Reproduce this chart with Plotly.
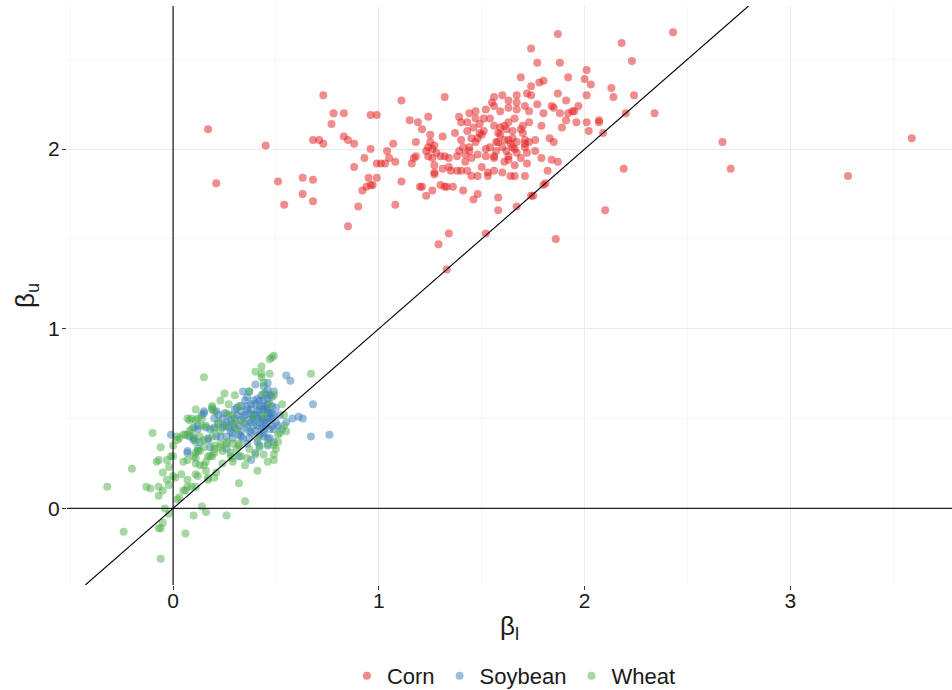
import plotly.graph_objects as go

# ---------------- data ----------------
corn_x = [0.17,0.21,0.45,0.51,0.54,0.63,0.63,0.68,0.68,0.68,0.71,0.73,0.73,0.78,0.83,0.77,0.83,0.85,0.88,0.96,0.93,0.88,0.95,0.99,0.99,0.96,0.94,0.92,0.97,0.90,0.85,0.96,0.99,
          1.11,1.32,1.15,1.19,1.21,1.24,1.25,1.31,1.39,1.44,1.47,1.40,1.43,1.47,1.37,1.43,1.46,1.49,1.40,1.45,1.47,1.18,1.07,1.04,1.05,1.08,1.01,1.03,1.11,1.08,1.17,1.16,1.18,1.23,1.24,1.25,1.27,1.26,1.24,1.28,1.26,1.27,1.27,1.27,1.30,1.32,1.34,1.31,1.34,1.35,1.38,1.39,1.41,1.44,1.44,1.42,1.42,1.38,1.40,1.43,1.45,1.48,1.20,1.21,1.23,1.26,1.30,1.32,1.33,1.36,1.41,1.46,1.48,1.34,1.29,1.33,1.52,
          1.87,1.74,1.77,1.88,2.01,1.69,1.92,2.00,1.80,1.78,1.74,1.87,2.01,1.60,1.67,1.72,1.74,1.56,1.91,1.55,1.63,1.67,1.77,1.84,1.85,1.97,1.52,1.56,1.59,1.63,1.67,1.71,1.73,1.80,1.88,1.92,1.94,1.95,1.91,1.96,2.01,2.02,1.89,1.79,1.73,1.70,1.69,1.70,1.66,1.63,1.61,1.62,1.59,1.58,1.59,1.56,1.54,1.51,1.49,1.51,1.50,1.65,1.65,1.58,1.57,1.61,1.63,1.60,1.57,1.54,1.52,1.48,1.45,1.64,1.67,1.71,1.71,1.73,1.76,1.66,1.67,1.62,1.63,1.56,1.56,1.52,1.61,1.65,1.72,1.76,1.71,1.69,1.63,1.72,1.79,1.83,1.85,1.84,1.87,1.50,1.53,1.53,1.56,1.60,1.64,1.66,1.66,1.71,1.48,1.58,1.58,1.67,1.74,1.75,1.80,1.81,1.86,1.82,
          2.10,2.19,2.67,2.71,3.28,3.59,2.43,2.18,2.23,2.24,2.34,2.20,2.13,2.14,2.09,2.03,2.07,2.07]
corn_y = [2.11,1.81,2.02,1.82,1.69,1.75,1.84,1.83,1.71,2.05,2.05,2.03,2.30,2.20,2.20,2.14,2.07,2.05,2.03,2.00,1.95,1.90,1.84,1.84,1.92,1.80,1.79,1.77,1.80,1.68,1.57,2.19,2.19,
          2.27,2.29,2.16,2.15,2.11,2.18,2.08,2.07,2.18,2.20,2.21,2.15,2.15,2.17,2.09,2.10,2.12,2.09,2.05,2.06,2.04,2.04,2.03,1.99,1.95,1.93,1.92,1.92,1.82,1.69,1.95,1.92,1.96,1.99,2.01,2.04,2.02,2.00,1.96,1.98,1.95,1.91,1.87,1.86,1.96,1.96,1.95,1.89,1.90,1.88,1.96,1.99,2.01,2.01,1.99,1.97,1.93,1.88,1.88,1.88,1.85,1.97,1.79,1.79,1.74,1.77,1.80,1.79,1.79,1.79,1.77,1.72,1.75,1.53,1.47,1.33,1.53,
          2.64,2.56,2.48,2.48,2.44,2.40,2.40,2.39,2.38,2.37,2.35,2.31,2.30,2.30,2.30,2.31,2.30,2.29,2.27,2.26,2.27,2.26,2.25,2.24,2.23,2.24,2.22,2.24,2.21,2.23,2.22,2.24,2.21,2.20,2.20,2.20,2.21,2.21,2.16,2.15,2.15,2.10,2.12,2.13,2.15,2.13,2.11,2.09,2.17,2.15,2.13,2.11,2.12,2.09,2.08,2.13,2.17,2.17,2.14,2.10,2.08,2.10,2.06,2.04,2.04,2.05,2.05,2.01,1.99,2.01,2.00,2.06,1.95,2.03,2.04,2.05,2.03,2.04,2.05,2.00,1.98,1.99,1.96,1.96,1.95,1.96,1.93,2.01,1.98,1.99,2.01,1.95,1.94,1.92,1.95,2.06,2.04,1.94,1.93,1.90,1.87,1.85,1.88,1.87,1.85,1.85,1.91,1.85,1.85,1.73,1.66,1.68,1.74,1.74,1.80,1.81,1.50,1.88,
          1.66,1.89,2.04,1.89,1.85,2.06,2.65,2.59,2.49,2.30,2.20,2.20,2.34,2.29,2.09,2.36,2.16,2.15]

soy_x = [-0.01,0.07,0.15,0.08,0.10,0.10,0.12,0.14,0.18,0.17,0.20,0.21,0.18,0.23,0.25,0.25,
         0.34,0.37,0.40,0.44,0.46,0.41,0.44,0.46,0.36,0.38,0.42,0.45,0.33,0.37,0.41,0.46,0.48,0.34,0.37,0.41,0.44,0.47,0.32,0.36,0.41,0.45,0.48,0.29,0.32,0.38,0.42,0.19,0.22,0.24,0.28,0.15,0.12,0.16,0.10,0.13,0.17,0.21,0.26,0.29,0.34,0.37,0.42,0.46,0.07,0.12,0.26,0.32,0.38,
         0.55,0.57,0.68,0.61,0.63,0.58,0.55,0.67,0.76,0.52,0.49,0.46,0.51,0.49,0.47,0.49,0.46,0.44,0.47,0.47,0.44,0.49,0.46,
         0.40,0.53,0.39,0.43,0.40,0.35,0.43,0.30,0.27,0.33,0.39,0.44,0.48,0.36,0.31,0.42,
         0.30,0.33,0.35,0.38,0.40,0.42,0.44,0.46,0.48,0.50,0.45,0.43,0.40,0.38,0.35,0.33,0.30,0.28,0.26,0.24,0.22,0.20,0.31,0.36,0.39,0.42,0.45,0.48,0.50,0.47,0.44,0.41,0.36,0.33,0.29,0.27,0.37,0.39,0.43,0.46]
soy_y = [0.41,0.31,0.54,0.40,0.38,0.45,0.46,0.52,0.44,0.39,0.50,0.54,0.34,0.40,0.53,0.46,
         0.65,0.65,0.69,0.68,0.70,0.61,0.60,0.61,0.57,0.58,0.57,0.56,0.54,0.53,0.54,0.53,0.53,0.51,0.49,0.50,0.49,0.50,0.46,0.45,0.46,0.46,0.46,0.42,0.41,0.42,0.41,0.55,0.52,0.50,0.49,0.53,0.44,0.45,0.39,0.37,0.38,0.40,0.40,0.39,0.39,0.39,0.35,0.39,0.32,0.33,0.33,0.29,0.27,
         0.74,0.71,0.58,0.51,0.50,0.50,0.48,0.40,0.41,0.52,0.52,0.50,0.46,0.44,0.63,0.65,0.66,0.55,0.53,0.39,0.40,0.37,0.35,
         0.31,0.44,0.52,0.52,0.58,0.60,0.63,0.50,0.45,0.43,0.46,0.44,0.57,0.55,0.56,0.48,
         0.55,0.57,0.52,0.55,0.52,0.55,0.57,0.55,0.50,0.48,0.48,0.45,0.43,0.48,0.47,0.49,0.45,0.43,0.48,0.45,0.47,0.45,0.52,0.62,0.60,0.60,0.64,0.62,0.56,0.44,0.42,0.37,0.36,0.40,0.47,0.52,0.43,0.50,0.50,0.58]

wheat_x = [0.15,-0.10,-0.06,-0.20,-0.32,-0.24,-0.06,0.06,-0.13,-0.11,-0.07,-0.07,-0.05,-0.03,-0.05,0.00,-0.02,-0.01,0.00,0.00,-0.07,-0.08,-0.03,0.03,-0.04,-0.02,-0.05,-0.06,-0.07,0.10,0.14,0.16,0.26,0.02,0.07,0.05,0.04,0.07,0.07,0.06,0.11,0.12,0.16,0.11,0.15,0.11,0.11,0.12,0.17,0.17,0.02,0.03,0.06,0.08,0.09,0.11,0.07,0.09,0.12,0.14,0.16,0.11,0.10,0.19,0.23,0.25,0.22,0.20,0.15,0.18,
           0.48,0.47,0.43,0.40,0.43,0.47,0.37,0.30,0.44,0.49,0.27,0.32,0.19,0.20,0.26,0.29,0.39,0.44,0.47,0.08,0.11,0.07,0.14,0.20,0.23,0.26,0.30,0.31,0.34,0.13,0.15,0.19,0.20,0.23,0.26,0.29,0.24,0.28,0.31,0.32,0.37,0.41,0.46,0.44,0.49,0.40,0.36,0.33,0.19,0.10,0.16,0.24,0.29,0.05,
           0.49,0.67,0.53,0.43,0.44,0.54,0.52,0.55,0.51,0.42,0.49,
           0.35,0.41,0.32,0.50,0.35,0.29,0.54,0.51,0.09,0.05,0.02,0.01,-0.02,0.13,0.11,0.21,0.20,0.13,0.17,0.20,0.26,0.32,0.49,0.46,0.23,0.28]
wheat_y = [0.73,0.42,0.34,0.22,0.12,-0.13,-0.28,-0.14,0.12,0.11,0.12,0.07,0.10,0.16,0.20,0.18,0.23,0.29,0.29,0.35,0.27,0.26,0.27,0.06,0.00,-0.03,-0.08,-0.11,-0.11,-0.04,0.01,-0.02,-0.04,0.38,0.27,0.26,0.19,0.16,0.12,0.10,0.12,0.18,0.21,0.25,0.24,0.28,0.31,0.32,0.17,0.16,0.40,0.39,0.41,0.43,0.44,0.55,0.50,0.50,0.50,0.46,0.46,0.37,0.40,0.56,0.60,0.64,0.48,0.33,0.34,0.29,
           0.84,0.83,0.79,0.76,0.75,0.75,0.65,0.63,0.64,0.63,0.58,0.57,0.57,0.54,0.53,0.52,0.51,0.52,0.58,0.49,0.49,0.41,0.50,0.44,0.43,0.46,0.48,0.44,0.48,0.40,0.38,0.40,0.35,0.36,0.37,0.36,0.32,0.31,0.33,0.36,0.33,0.39,0.36,0.30,0.30,0.30,0.28,0.29,0.29,0.29,0.26,0.25,0.26,0.41,
           0.85,0.75,0.58,0.73,0.70,0.46,0.42,0.43,0.37,0.34,0.35,
           0.04,0.21,0.14,0.33,0.24,0.28,0.52,0.41,0.12,0.10,0.05,0.17,0.13,0.24,0.19,0.20,0.17,0.32,0.29,0.31,0.36,0.35,0.27,0.26,0.34,0.29]

series_names = ["Corn", "Soybean", "Wheat"]
series_colors = ["#E41A1C", "#377EB8", "#4DAF4A"]

x_ticks = [0, 1, 2, 3]
y_ticks = [0, 1, 2]

# ---------------- axis ranges (ggplot style 5% expansion) ----------------
all_x = corn_x + soy_x + wheat_x
all_y = corn_y + soy_y + wheat_y
def expand(lo, hi, f=0.05):
    d = (hi - lo) * f
    return [lo - d, hi + d]
xr = expand(min(all_x), max(all_x))
yr = expand(min(all_y), max(all_y))

FONT = "Liberation Sans, Arial, Helvetica, sans-serif"

fig = go.Figure()
for name, col, xs, ys in zip(series_names, series_colors,
                             [corn_x, soy_x, wheat_x], [corn_y, soy_y, wheat_y]):
    fig.add_trace(go.Scatter(
        x=xs, y=ys, mode="markers", name=name,
        marker=dict(color=col, size=8, opacity=0.5, line=dict(width=0)),
    ))

# reference lines: x = 0, y = 0, y = x
fig.add_shape(type="line", xref="x", yref="paper", x0=0, x1=0, y0=0, y1=1,
              line=dict(color="#000000", width=1.1))
fig.add_shape(type="line", xref="paper", yref="y", x0=0, x1=1, y0=0, y1=0,
              line=dict(color="#222222", width=1.4))
lo = max(xr[0], yr[0]); hi = min(xr[1], yr[1])
fig.add_shape(type="line", xref="x", yref="y", x0=lo, y0=lo, x1=hi, y1=hi,
              line=dict(color="#000000", width=1.1))

axis_common = dict(
    showline=False, zeroline=False, automargin=False,
    showgrid=True, gridcolor="#EBEBEB", gridwidth=1,
    ticks="outside", ticklen=4, tickwidth=1, tickcolor="#333333",
    tickfont=dict(family=FONT, size=21, color="#1a1a1a"),
    minor=dict(dtick=0.5, showgrid=True, gridcolor="#F6F6F6", gridwidth=1, ticks=""),
)

fig.update_layout(
    width=952, height=690,
    margin=dict(l=67, r=0, t=6, b=105, autoexpand=False),
    paper_bgcolor="white", plot_bgcolor="white",
    font=dict(family=FONT, color="#1a1a1a"),
    xaxis=dict(range=xr, tickvals=x_ticks, ticktext=[str(v) for v in x_ticks],
               title=dict(text="β<sub>l</sub>", font=dict(size=26, family=FONT), standoff=5),
               ticklabelstandoff=-7, **axis_common),
    yaxis=dict(range=yr, tickvals=y_ticks, ticktext=[str(v) for v in y_ticks],
               title=dict(text="β<sub>u</sub>", font=dict(size=26, family=FONT), standoff=6),
               ticklabelstandoff=-2, **axis_common),
    legend=dict(orientation="h", x=0.505, xanchor="center", y=-0.157, yanchor="middle",
                font=dict(family=FONT, size=22, color="#1a1a1a"),
                itemwidth=30, tracegroupgap=0, bgcolor="rgba(0,0,0,0)"),
    showlegend=True,
)

fig.write_html("out.html")
